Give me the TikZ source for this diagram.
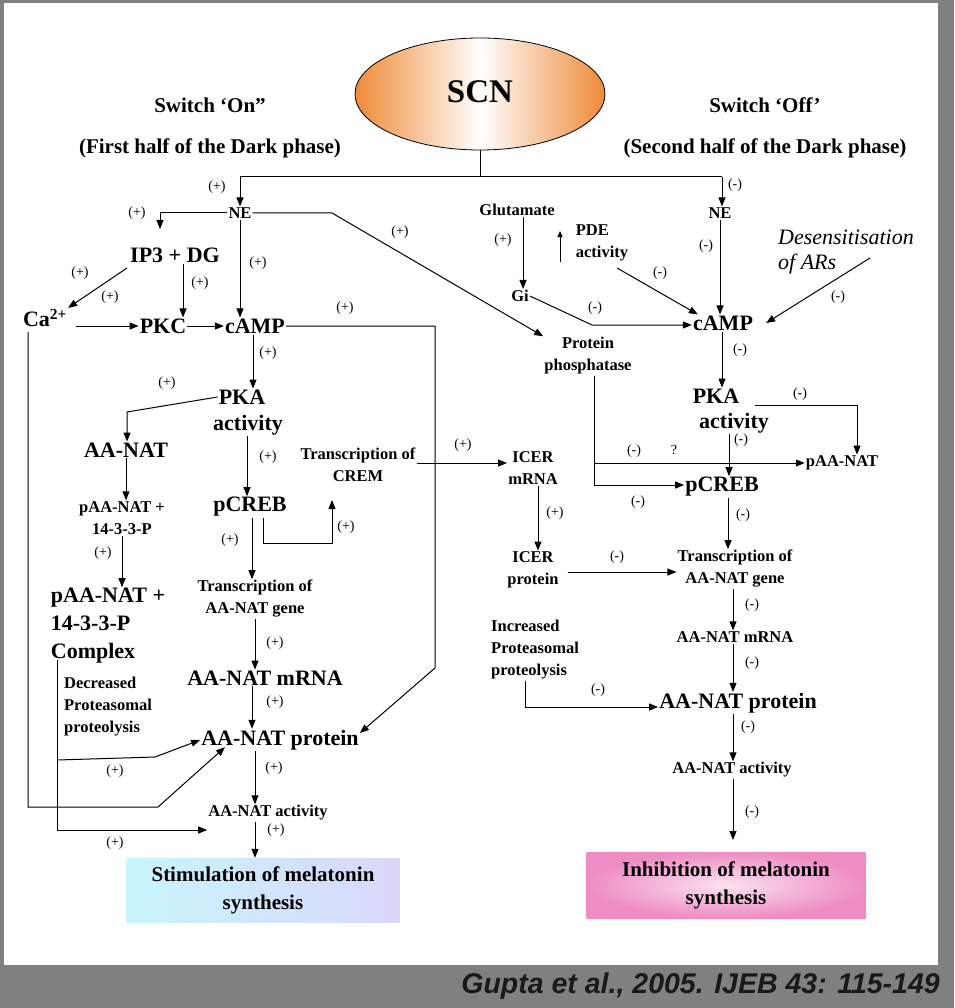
\documentclass[tikz,border=0pt]{standalone}
\usepackage{fontspec}
\setmainfont{Liberation Serif}
\newfontfamily\citefont{Liberation Sans}
\usetikzlibrary{arrows.meta,shapes.geometric,calc}
\definecolor{frame}{RGB}{128,128,128}
\definecolor{scnor}{RGB}{238,138,55}
\definecolor{cyanb}{RGB}{200,245,252}
\definecolor{lavb}{RGB}{218,215,250}
\definecolor{pinkb}{RGB}{238,140,195}
\begin{document}
\begin{tikzpicture}[x=1pt,y=-1pt,
  big/.style={font=\fontsize{22}{28}\selectfont\bfseries,inner sep=1pt,align=center},
  mid/.style={font=\fontsize{21}{28}\selectfont\bfseries,inner sep=1pt,align=center},
  sml/.style={font=\fontsize{16.5}{22}\selectfont\bfseries,inner sep=1pt,align=center},
  sgn/.style={font=\fontsize{14}{14}\selectfont,inner sep=0pt},
  arr/.style={-{Triangle[length=9pt,width=7pt]},line width=1pt},
  ln/.style={line width=1pt}]
\useasboundingbox (0,0) rectangle (954,1008);
\fill[frame] (0,0) rectangle (954,1008);
\fill[white] (4,3) rectangle (938,965);
\node[font=\citefont\fontsize{28.5}{30}\selectfont\bfseries\itshape,text=black!90,anchor=east,inner sep=0pt] (cite) at (940,986) {Gupta et al., 2005. IJEB 43: 115-149};
% SCN
\node[ellipse,draw,line width=0.8pt,minimum width=250pt,minimum height=112pt,left color=scnor,right color=scnor,middle color=white] (scn) at (480,94) {};
\node[font=\fontsize{33}{35}\selectfont\bfseries] (scnt) at (480,92) {SCN};
\node[mid] (son) at (210,105) {Switch `On''};
\node[mid] (son2) at (210,148) {(First half of the Dark phase)};
\node[mid] (soff) at (765,105) {Switch `Off'};
\node[mid] (soff2) at (765,148) {(Second half of the Dark phase)};
% left side nodes
\node[sml] (nel) at (240,213) {NE};
\node[big] (ip3) at (175,255) {IP3 + DG};
\node[big] (ca) at (45,318) {Ca\textsuperscript{2+}};
\node[big] (pkc) at (163,326) {PKC};
\node[big] (campl) at (255,326) {cAMP};
\node[big] (pkal) at (242,397) {PKA};
\node[big] (pkal2) at (248,425) {activity};
\node[big] (aanat) at (126,450) {AA-NAT};
\node[sml] (paa1) at (122,518) {pAA-NAT +\\14-3-3-P};
\node[big,align=left] (paa2) at (108,626) {pAA-NAT +\\14-3-3-P\\Complex};
\node[sml,align=left] (decr) at (108,707) {Decreased\\Proteasomal\\proteolysis};
\node[big] (pcrebl) at (250,507) {pCREB};
\node[sml] (crem) at (358,465) {Transcription of\\CREM};
\node[sml] (tagl) at (255,599) {Transcription of\\AA-NAT gene};
\node[big] (mrnal) at (265,678) {AA-NAT mRNA};
\node[big] (protl) at (280,740) {AA-NAT protein};
\node[sml] (actl) at (268,813) {AA-NAT activity};
\node[mid,minimum width=273pt,minimum height=64pt,left color=cyanb,right color=lavb] (stim) at (263,890) {Stimulation of melatonin\\synthesis};
% right side nodes
\node[sml] (ner) at (720,213) {NE};
\node[sml] (glu) at (517,210) {Glutamate};
\node[sml,align=left] (pde) at (602,243) {PDE\\activity};
\node[sml] (gi) at (520,296) {Gi};
\node[font=\fontsize{22}{25}\selectfont\itshape,align=left,inner sep=0pt] (des) at (846,252) {Desensitisation\\of ARs};
\node[big] (campr) at (723,323) {cAMP};
\node[sml] (pp) at (588,356) {Protein\\phosphatase};
\node[big] (pkar) at (716,396) {PKA};
\node[big] (pkar2) at (734,423) {activity};
\node[sml] (paar) at (842,463) {pAA-NAT};
\node[big] (pcrebr) at (722,487) {pCREB};
\node[sml] (icerm) at (533,468) {ICER\\mRNA};
\node[sml] (icerp) at (533,570) {ICER\\protein};
\node[sml] (tagr) at (735,569) {Transcription of\\AA-NAT gene};
\node[sml] (mrnar) at (735,637) {AA-NAT mRNA};
\node[big] (protr) at (738,703) {AA-NAT protein};
\node[sml] (actr) at (732,770) {AA-NAT activity};
\node[sml,align=left] (incr) at (535,650) {Increased\\Proteasomal\\proteolysis};
\node[mid,minimum width=279pt,minimum height=66pt,inner color=pinkb!25,outer color=pinkb] (inh) at (726,885) {Inhibition of melatonin\\synthesis};
% coordinates
\coordinate (j) at (480,177);
\coordinate (jl) at (240,177);
\coordinate (jr) at (722,177);
% SCN split
\draw[ln] (scn.south) -- (j);
\draw[ln] (jl) -- (jr);
\draw[arr] (jl) -- (nel.north);
\draw[arr] (jr) -- (ner.north -| jr);
\node[sgn] (s1) at (217,187) {(+)};
\node[sgn] (s2) at (735,185) {(-)};
% NE left
\coordinate (ip3t) at (160,229);
\draw[arr] (nel.west) -| (ip3t);
\node[sgn] (s3) at (137,213) {(+)};
\draw[arr] (nel.south) -- (nel.south |- campl.north);
\node[sgn] (s4) at (258,263) {(+)};
\draw[arr] (ip3.south -| 183,0) -- (pkc.north -| 183,0);
\node[sgn] (s5) at (200,283) {(+)};
\draw[arr] (127,268) -- (ca.north east);
\node[sgn] (s6) at (80,273) {(+)};
\node[sgn] (s7) at (110,297) {(+)};
\draw[arr] (ca.east |- pkc) ++(8,0) coordinate (cae) -- (pkc.west);
\draw[arr] (pkc.east) -- (campl.west);
% cAMP long line
\coordinate (c1) at (435,326);
\coordinate (c2) at (435,668);
\draw[arr] (campl.east) -- (c1) -- (c2) -- (protl.east |- 0,733);
\node[sgn] (s8) at (345,308) {(+)};
\draw[arr] (campl.south -| 253,0) -- (pkal.north -| 253,0);
\node[sgn] (s9) at (268,353) {(+)};
\draw[arr] (pkal.west) -- (127,412) -- (aanat.north -| 127,0);
\node[sgn] (s10) at (167,383) {(+)};
\draw[arr] (aanat.south) -- (paa1.north -| aanat);
\draw[arr] (paa1.south -| 122,0) -- (paa2.north -| 122,0);
\node[sgn] (s11) at (103,553) {(+)};
\draw[arr] (pkal2.south -| 247,0) -- (pcrebl.north -| 247,0);
\node[sgn] (s12) at (268,457) {(+)};
\coordinate (pc1) at (263,543);
\coordinate (pc2) at (332,500);
\draw[arr] (pcrebl.south -| 263,0) -- (pc1) -| (pc2);
\node[sgn] (s13) at (346,527) {(+)};
\draw[arr] (pcrebl.south -| 252,0) -- (tagl.north -| 252,0);
\node[sgn] (s14) at (230,540) {(+)};
\draw[arr] (tagl.south) -- (mrnal.north -| tagl);
\node[sgn] (s15) at (275,643) {(+)};
\draw[arr] (mrnal.south -| 252,0) -- (protl.north -| 252,0);
\node[sgn] (s16) at (275,702) {(+)};
\draw[arr] (protl.south -| 255,0) -- (actl.north -| 255,0);
\node[sgn] (s17) at (274,768) {(+)};
\draw[arr] (actl.south -| 255,0) -- (stim.north -| 255,0);
\node[sgn] (s18) at (276,830) {(+)};
% Complex lines
\coordinate (k1) at (57,660);
\coordinate (k2) at (57,830);
\coordinate (k3) at (57,760);
\coordinate (k4) at (155,757);
\draw[arr] (k1) -- (k2) -- (actl.west |- k2);
\draw[arr] (k3) -- (k4) -- (protl.west);
\node[sgn] (s19) at (115,771) {(+)};
\node[sgn] (s20) at (115,843) {(+)};
% Ca line
\coordinate (q1) at (28,332);
\coordinate (q2) at (28,807);
\coordinate (q3) at (158,807);
\draw[arr] (q1) -- (q2) -- (q3) -- ([xshift=-55pt,yshift=4pt]protl.south);
% NE -> protein phosphatase
\coordinate (n1) at (332,213);
\draw[arr] (nel.east) -- (n1) -- (pp.north west);
\node[sgn] (s21) at (400,232) {(+)};
% CREM -> ICER
\draw[arr] (crem.east |- 0,463) -- (icerm.west |- 0,463);
\node[sgn] (s22) at (463,445) {(+)};
\draw[arr] (icerm.south -| 538,0) -- (icerp.north -| 538,0);
\node[sgn] (s23) at (555,513) {(+)};
\draw[arr] (icerp.east |- 0,572) ++(8,0) -- (tagr.west |- 0,572);
\node[sgn] (s24) at (617,557) {(-)};
\draw[arr] (tagr.south -| 733,0) -- (mrnar.north -| 733,0);
\node[sgn] (s25) at (752,605) {(-)};
\draw[arr] (mrnar.south -| 733,0) -- (protr.north -| 733,0);
\node[sgn] (s26) at (752,663) {(-)};
\draw[arr] (protr.south -| 733,0) -- (actr.north -| 733,0);
\node[sgn] (s27) at (748,727) {(-)};
\draw[arr] (actr.south -| 733,0) -- (733,840);
\node[sgn] (s28) at (752,812) {(-)};
\coordinate (i1) at (525,707);
\draw[arr] (incr.south -| 525,0) -- (i1) -- (protr.west |- i1);
\node[sgn] (s29) at (598,690) {(-)};
% glutamate etc
\draw[arr] (glu.south -| 523,0) -- (gi.north -| 523,0);
\node[sgn] (s30) at (503,240) {(+)};
\coordinate (g1) at (592,325);
\draw[arr] (gi.east) -- (g1) -- (campr.west |- g1);
\node[sgn] (s31) at (595,308) {(-)};
\draw[-{Triangle[length=6pt,width=5pt]},line width=1pt] (560,262) -- (560,231);
\coordinate (pd1) at (617,268);
\draw[arr] (pd1) -- ([xshift=6pt]campr.north west);
\node[sgn] (s32) at (660,273) {(-)};
\draw[arr] (ner.south -| 720,0) -- (campr.north -| 720,0);
\node[sgn] (s33) at (706,246) {(-)};
\coordinate (d1) at (870,258);
\draw[arr] (d1) -- ([xshift=12pt]campr.east);
\node[sgn] (s34) at (838,297) {(-)};
\draw[arr] (campr.south -| 722,0) -- (pkar.north -| 722,0);
\node[sgn] (s35) at (740,350) {(-)};
\coordinate (p1) at (857,405);
\coordinate (p0) at (755,405);
\draw[arr] (p0) -- (p1) -- (paar.north -| p1);
\node[sgn] (s36) at (800,394) {(-)};
\coordinate (pp1) at (594,485);
\coordinate (pp2) at (594,463);
\draw[arr] (pp.south -| 594,0) -- (pp1) -- (pcrebr.west |- pp1);
\draw[arr] (pp2) -- (paar.west |- pp2);
\node[sgn] (s37) at (634,451) {(-)};
\node[sgn] (s38) at (674,450) {?};
\node[sgn] (s39) at (638,502) {(-)};
\draw[arr] (pkar2.south -| 729,0) -- (pcrebr.north -| 729,0);
\node[sgn] (s40) at (741,440) {(-)};
\draw[arr] (pcrebr.south -| 728,0) -- (tagr.north -| 728,0);
\node[sgn] (s41) at (743,515) {(-)};
\end{tikzpicture}
\end{document}
